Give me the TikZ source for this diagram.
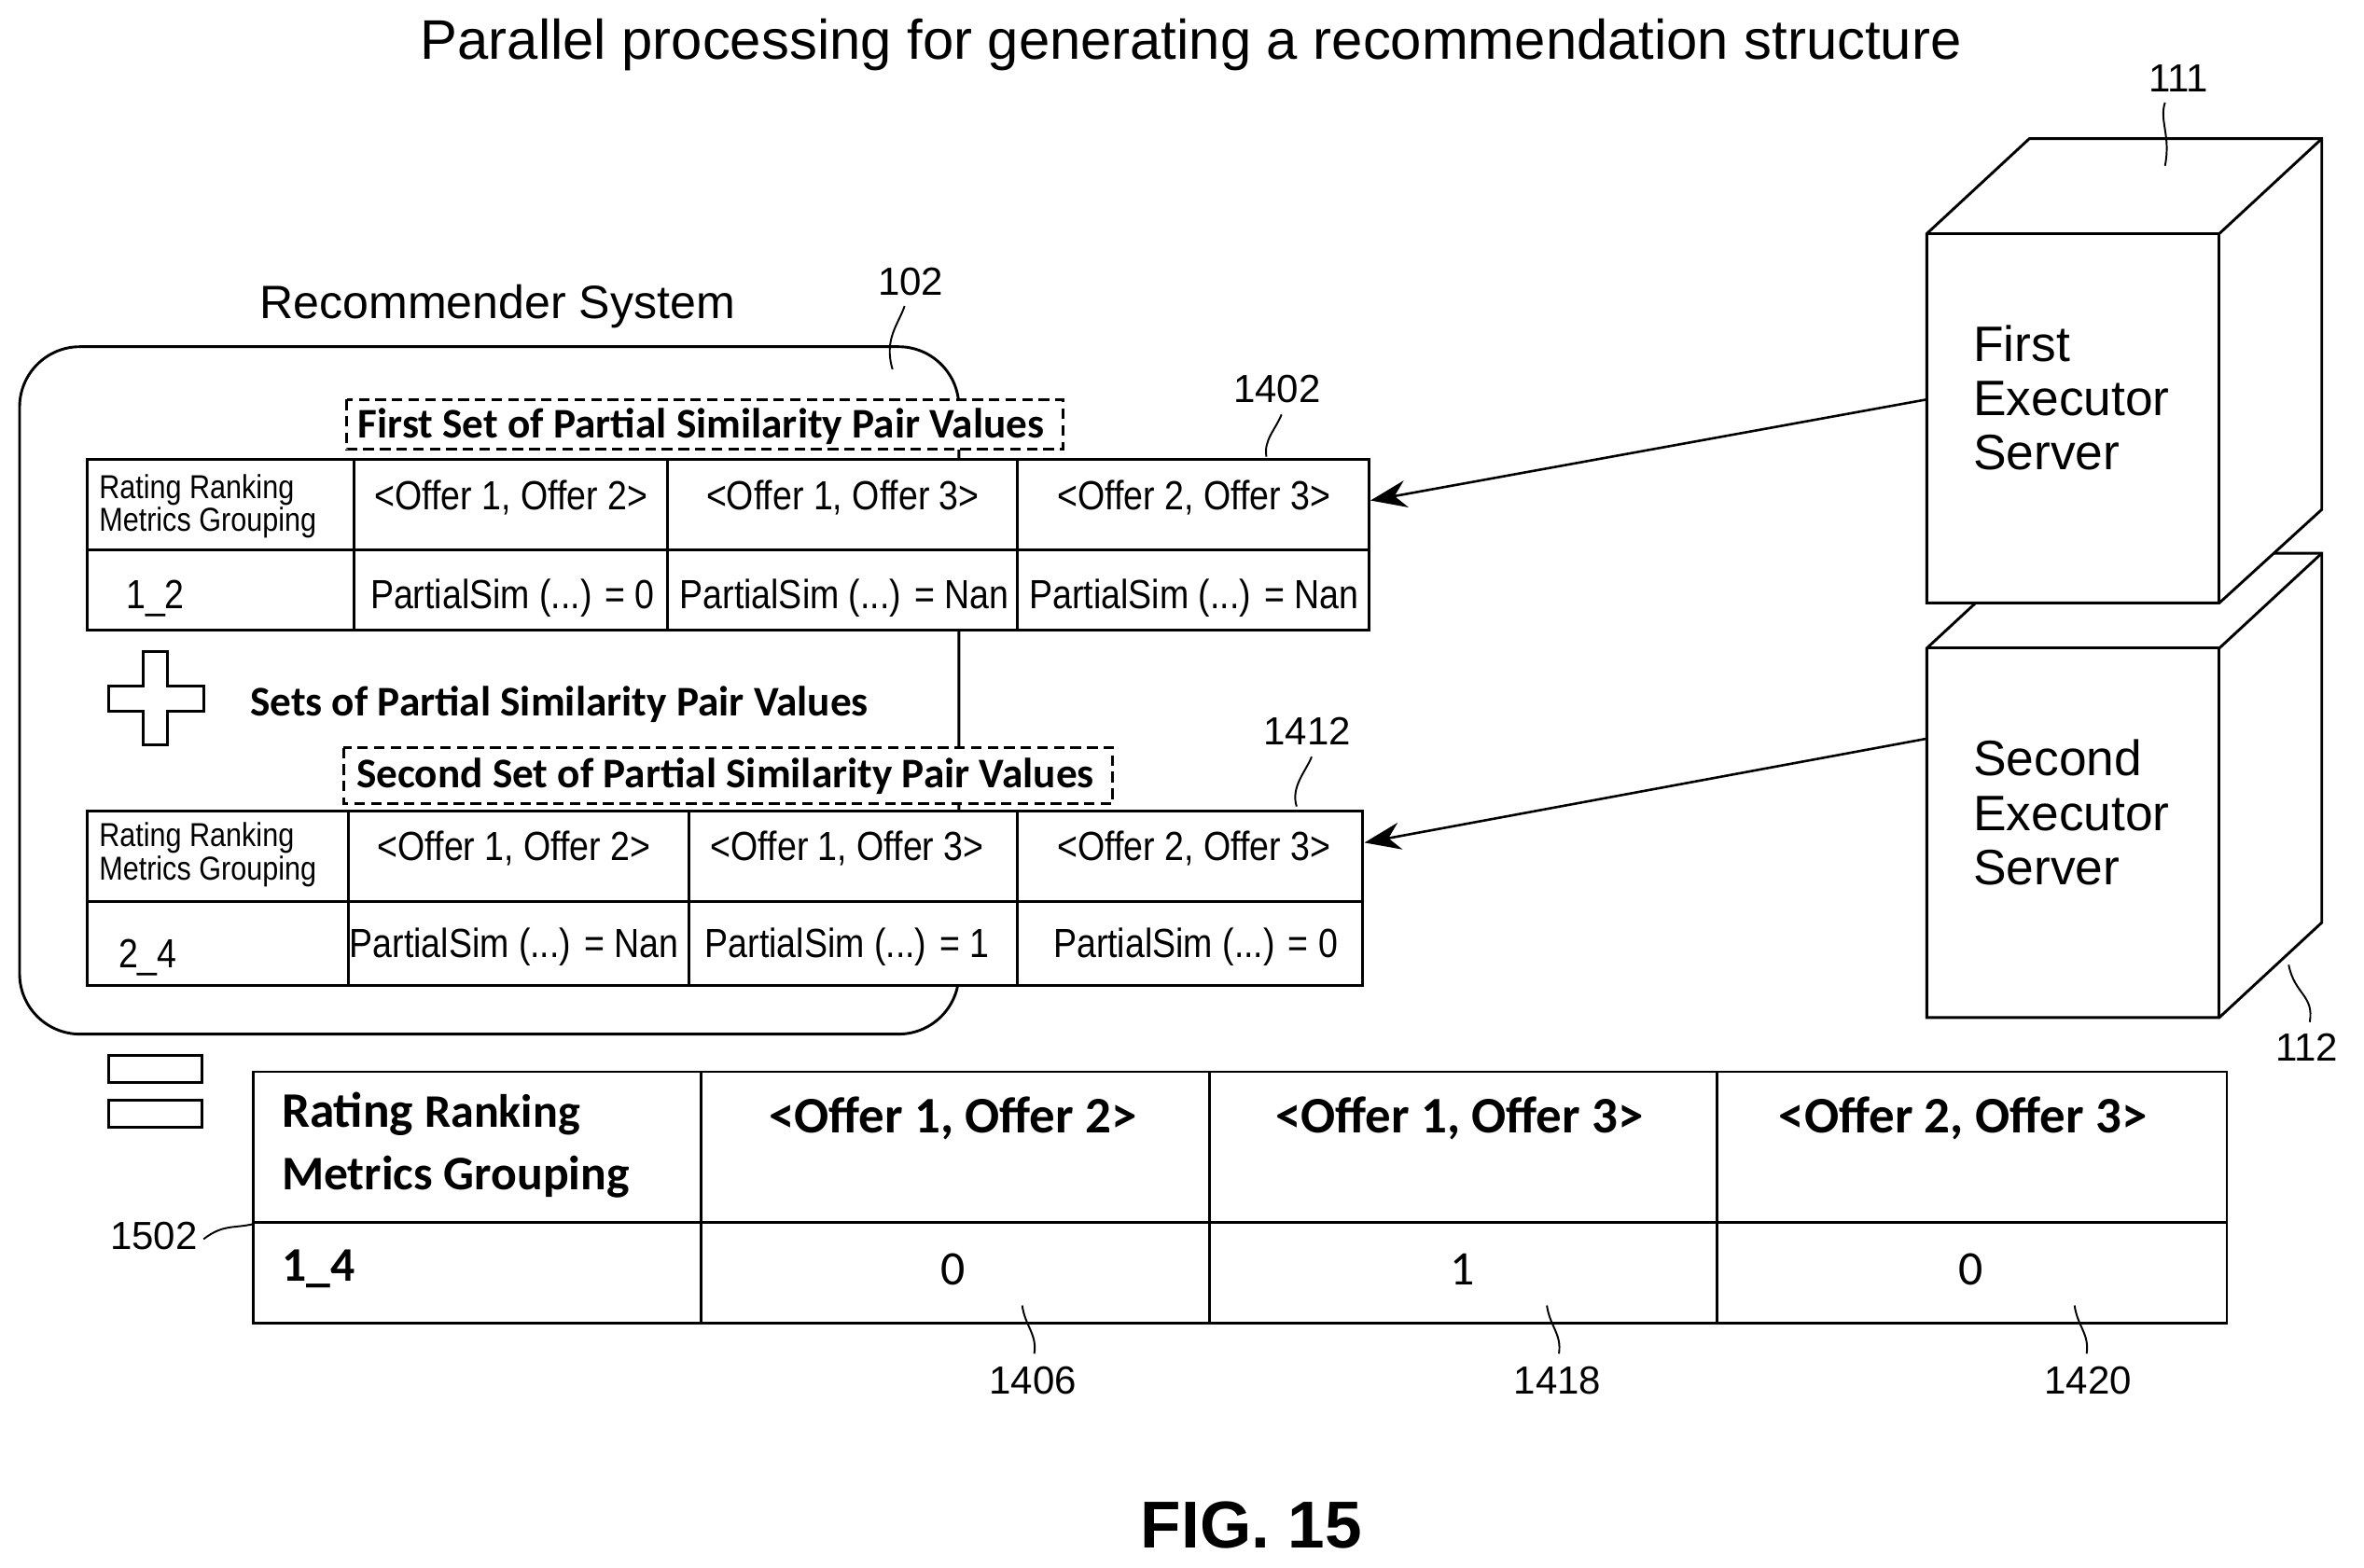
\documentclass[tikz,border=0pt]{standalone}
\usepackage{fontspec}
\usetikzlibrary{arrows.meta}
\setmainfont{Liberation Sans}
\newfontfamily\carl{Carlito}
\begin{document}
\begin{tikzpicture}[x=1pt,y=-1pt,line width=1.8pt,
 t/.style={inner sep=0,font=\fontsize{26}{30}\selectfont},
 n/.style={inner sep=0,xscale=0.86,font=\fontsize{27}{30}\selectfont},
 sm/.style={inner sep=0,xscale=0.86,align=left,font=\fontsize{22}{22}\selectfont},
 cb/.style={inner sep=0,font=\carl\bfseries\fontsize{28}{30}\selectfont},
 lead/.style={line width=1.2pt},
 dsh/.style={dash pattern=on 7pt off 4pt,line width=1.6pt,fill=white},
 arr/.style={-{Stealth[length=24pt,width=18pt]},line width=1.6pt},
 box/.style={fill=white}]
\useasboundingbox (0,0) rectangle (1568,1040);
\node[t,font=\fontsize{37}{40}\selectfont] (title) at (790,30) {Parallel processing for generating a recommendation structure};
% servers
\draw[box] (1278,430) -- (1346,367) -- (1540,367) -- (1540,612) -- (1472,675) -- (1278,675) -- cycle;
\draw (1472,430) -- (1540,367); \draw (1278,430) -- (1472,430) -- (1472,675);
\draw[box] (1278,155) -- (1346,92) -- (1540,92) -- (1540,338) -- (1472,400) -- (1278,400) -- cycle;
\draw (1472,155) -- (1540,92); \draw (1278,155) -- (1472,155) -- (1472,400);
\coordinate (s1) at (1278,265); \coordinate (s2) at (1278,490);
\node[t,anchor=north west,align=left,font=\fontsize{33}{36}\selectfont] (fs) at (1308,215) {First\\Executor\\Server};
\node[t,anchor=north west,align=left,font=\fontsize{33}{36}\selectfont] (ss) at (1308,490) {Second\\Executor\\Server};
\node[t] (l111) at (1445,52) {111};
\draw[lead] (1436,68) .. controls (1432,80) and (1440,90) .. (1436,110);
\node[t] (l112) at (1530,695) {112};
\draw[lead] (1518,640) .. controls (1522,660) and (1535,660) .. (1532,678);
% recommender
\node[t,font=\fontsize{31}{34}\selectfont] (rs) at (330,203) {Recommender System};
\draw[rounded corners=40] (13,230) rectangle (636,686);
\node[t] (l102) at (604,187) {102};
\draw[lead] (600,203) .. controls (596,215) and (586,225) .. (592,245);
% table 1
\draw[dsh] (230,265) rectangle (705,298);
\node[cb] (d1) at (465,283) {First Set of Partial Similarity Pair Values};
\draw[fill=white] (58,305) rectangle (908,418);
\draw (58,365) -- (908,365);
\foreach \x in {235,443,675} \draw (\x,305) -- (\x,418);
\node[sm,anchor=west] (h1) at (65,336) {Rating Ranking\\Metrics Grouping};
\node[n] (a1) at (339,330) {<Offer 1, Offer 2>};
\node[n] (a2) at (559,330) {<Offer 1, Offer 3>};
\node[n] (a3) at (792,330) {<Offer 2, Offer 3>};
\node[n] (a0) at (103,397) {1\_2};
\node[n] (b1) at (340,397) {PartialSim (...) = 0};
\node[n] (b2) at (560,397) {PartialSim (...) = Nan};
\node[n] (b3) at (792,397) {PartialSim (...) = Nan};
\node[t] (l1402) at (847,258) {1402};
\draw[lead] (850,275) .. controls (846,285) and (838,292) .. (840,303);
\draw[arr] (s1) -- (909,332);
% plus
\draw (95,432) -- (111,432) -- (111,455) -- (135,455) -- (135,472) -- (111,472) -- (111,494) -- (95,494) -- (95,472) -- (72,472) -- (72,455) -- (95,455) -- cycle;
\node[cb,anchor=west] (sets) at (165,467) {Sets of Partial Similarity Pair Values};
% table 2
\draw[dsh] (228,496) rectangle (738,533);
\node[cb] (d2) at (481,515) {Second Set of Partial Similarity Pair Values};
\draw[fill=white] (58,538) rectangle (904,654);
\draw (58,598) -- (904,598);
\foreach \x in {231,457,675} \draw (\x,538) -- (\x,654);
\node[sm,anchor=west] (h2) at (65,567) {Rating Ranking\\Metrics Grouping};
\node[n] (c1) at (341,563) {<Offer 1, Offer 2>};
\node[n] (c2) at (562,563) {<Offer 1, Offer 3>};
\node[n] (c3) at (792,563) {<Offer 2, Offer 3>};
\node[n] (c0) at (98,635) {2\_4};
\node[n] (e1) at (341,628) {PartialSim (...) = Nan};
\node[n] (e2) at (562,628) {PartialSim (...) = 1};
\node[n] (e3) at (793,628) {PartialSim (...) = 0};
\node[t] (l1412) at (867,485) {1412};
\draw[lead] (870,502) .. controls (866,512) and (856,522) .. (860,535);
\draw[arr] (s2) -- (905,559);
% equals
\draw (72,700) rectangle (134,718); \draw (72,730) rectangle (134,748);
% big table
\draw (168,711) rectangle (1477,878);
\draw (168,811) -- (1477,811);
\foreach \x in {465,802,1139} \draw (\x,711) -- (\x,878);
\node[cb,anchor=north west,align=left,font=\carl\bfseries\fontsize{33}{41}\selectfont] (bh) at (186,724) {Rating {\fontsize{31}{41}\selectfont Ranking}\\{\fontsize{32}{41}\selectfont Metrics Grouping}};
\node[cb,font=\carl\bfseries\fontsize{34}{36}\selectfont] (o1) at (632,742) {<Offer 1, Offer 2>};
\node[cb,font=\carl\bfseries\fontsize{34}{36}\selectfont] (o2) at (968,742) {<Offer 1, Offer 3>};
\node[cb,font=\carl\bfseries\fontsize{34}{36}\selectfont] (o3) at (1302,742) {<Offer 2, Offer 3>};
\node[cb,anchor=west,font=\carl\bfseries\fontsize{32}{32}\selectfont] (r0) at (186,842) {1\_4};
\node[t,font=\carl\fontsize{32}{32}\selectfont] (r1) at (632,842) {0};
\node[t,font=\carl\fontsize{32}{32}\selectfont] (r2) at (970,842) {1};
\node[t,font=\carl\fontsize{32}{32}\selectfont] (r3) at (1307,842) {0};
\node[t] (l1502) at (102,820) {1502};
\draw[lead] (135,822) .. controls (148,812) and (155,815) .. (168,812);
\node[t] (l1406) at (685,916) {1406};
\draw[lead] (678,866) .. controls (680,880) and (688,885) .. (686,898);
\node[t] (l1418) at (1033,916) {1418};
\draw[lead] (1026,866) .. controls (1028,880) and (1036,885) .. (1034,898);
\node[t] (l1420) at (1385,916) {1420};
\draw[lead] (1376,866) .. controls (1378,880) and (1386,885) .. (1384,898);
\node[t,font=\bfseries\fontsize{44}{46}\selectfont] (fig) at (830,1012) {FIG. 15};
\end{tikzpicture}
\end{document}
